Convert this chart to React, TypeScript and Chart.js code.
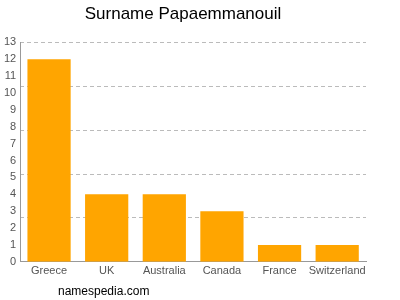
import React, { useEffect, useRef } from "react";
import { Chart, registerables } from "chart.js";
Chart.register(...registerables);

const categories = ["Greece", "UK", "Australia", "Canada", "France", "Switzerland"];
const counts = [12, 4, 4, 3, 1, 1];
const gridValues = [0, 2.6, 5.2, 7.8, 10.4, 13];
const titleText = "Surname Papaemmanouil";
const watermark = "namespedia.com";

export default function App() {
  const ref = useRef<HTMLCanvasElement | null>(null);
  useEffect(() => {
    if (!ref.current) return;
    const font = { family: "Liberation Sans, Arial", size: 11 };
    const chart = new Chart(ref.current, {
      type: "bar",
      data: {
        labels: categories,
        datasets: [
          {
            data: counts,
            backgroundColor: "#FFA500",
            borderWidth: 0,
            categoryPercentage: 1,
            barPercentage: 0.75,
          },
        ],
      },
      options: {
        animation: false,
        responsive: false,
        layout: { padding: { left: 0, right: 34, top: 0, bottom: 19 } },
        plugins: {
          legend: { display: false },
          tooltip: { enabled: false },
          title: {
            display: true,
            text: titleText,
            color: "#000",
            font: { family: "Liberation Sans, Arial", size: 17, weight: "normal" },
            padding: { top: 4, bottom: 18 },
          },
        },
        scales: {
          x: {
            grid: { display: false, drawTicks: false },
            border: { display: true, color: "#999" },
            ticks: { color: "#555", font, padding: 3, maxRotation: 0, minRotation: 0, autoSkip: false },
          },
          y: {
            min: 0,
            max: 13,
            grid: { display: false, drawTicks: false },
            border: { display: true, color: "#999" },
            ticks: { stepSize: 1, color: "#555", font, padding: 4, autoSkip: false },
          },
          yGrid: {
            position: "left",
            min: 0,
            max: 13,
            afterFit: (s: any) => { s.width = 0; },
            afterBuildTicks: (s: any) => {
              s.ticks = gridValues.map((v) => ({ value: v }));
            },
            ticks: { display: false },
            border: { display: false, dash: [4, 3] },
            grid: { color: "#bbb", lineWidth: 1, drawTicks: false },
          },
        },
      } as any,
    });
    return () => chart.destroy();
  }, []);
  return (
    <div style={{ position: "fixed", left: 0, top: 0, width: 400, height: 300, background: "#fff" }}>
      <canvas ref={ref} width={400} height={300} />
      <div
        style={{
          position: "absolute",
          left: 58,
          top: 284,
          fontFamily: "Liberation Sans, Arial",
          fontSize: 12,
          color: "#000",
        }}
      >
        {watermark}
      </div>
    </div>
  );
}
